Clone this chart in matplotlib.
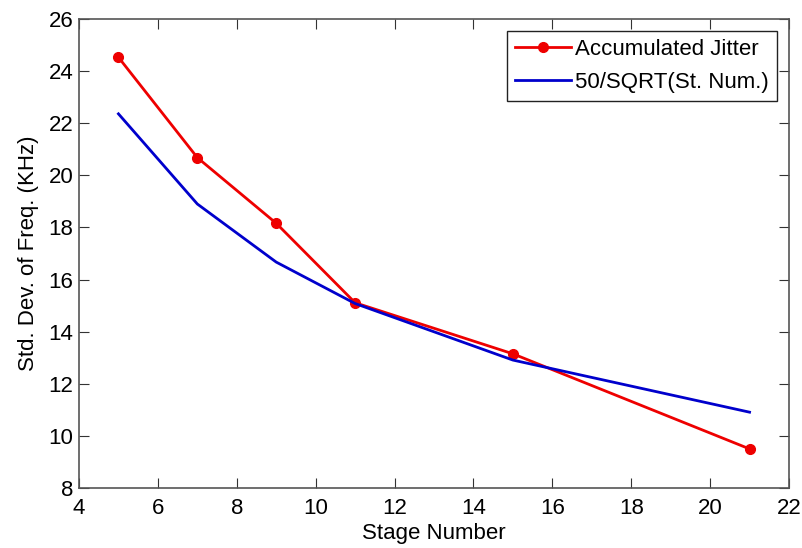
import matplotlib
matplotlib.use("Agg")
import matplotlib.pyplot as plt

stages = [5, 7, 9, 11, 15, 21]
accumulated_jitter = [24.53, 20.68, 18.16, 15.11, 13.15, 9.50]
sqrt_model = [22.36, 18.90, 16.67, 15.08, 12.91, 10.91]
x_ticks = [4, 6, 8, 10, 12, 14, 16, 18, 20, 22]
y_ticks = [8, 10, 12, 14, 16, 18, 20, 22, 24, 26]

plt.rcParams['font.family'] = ['Liberation Sans', 'DejaVu Sans']
FS = 16

fig = plt.figure(figsize=(8.03, 5.48), dpi=100)
ax = fig.add_axes([79/803, 1-488/548, (789-79)/803, (488-19)/548])

ax.plot(stages, accumulated_jitter, color='#ee0000', lw=2, marker='o', ms=7,
        label='Accumulated Jitter')
ax.plot(stages, sqrt_model, color='#0000cc', lw=2, label='50/SQRT(St. Num.)')

ax.set_xlim(4, 22)
ax.set_ylim(8, 26)
ax.set_xticks(x_ticks)
ax.set_yticks(y_ticks)
ax.tick_params(direction='in', top=True, right=True, labelsize=FS, length=7,
               color='#333333')
ax.tick_params(axis='x', pad=7)
ax.tick_params(axis='y', pad=4)
for s in ax.spines.values():
    s.set_color('#555555')
    s.set_linewidth(1.2)

ax.set_xlabel('Stage Number', fontsize=FS, labelpad=3)
ax.set_ylabel('Std. Dev. of Freq. (KHz)', fontsize=FS, labelpad=7)

leg = ax.legend(loc='upper right', fontsize=FS, fancybox=False, framealpha=1,
                edgecolor='#222222', borderaxespad=0.55, handlelength=2.5,
                handletextpad=0.2, borderpad=0.35, labelspacing=0.55)
leg.get_frame().set_linewidth(1.0)

fig.savefig('out.png', dpi=100)
